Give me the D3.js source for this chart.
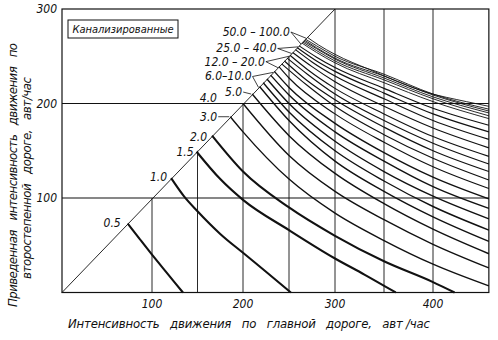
<!DOCTYPE html>
<html><head><meta charset="utf-8">
<script src="https://cdn.jsdelivr.net/npm/d3@7"></script>
<style>
html,body{margin:0;padding:0;background:#fff;}
svg{display:block;}
text{font-family:"Liberation Sans Narrow","DejaVu Sans Condensed","Liberation Sans",sans-serif;font-style:italic;fill:#111;}
</style></head>
<body>
<svg id="chart" width="498" height="340"></svg>
<script>
// ---- data ----
const xTicks = [100, 200, 300, 400];
const yTicks = [100, 200, 300];
const xGrid = [100, 150, 200, 250, 300, 350, 400];
const yGrid = [100, 200];
const xMax = 457, yMax = 300;
const curveValues = [0.5,1,1.5,2,3,4,5,6,7,8,9,10,12,14,16,18,20,25,30,35,40,50,60,70,80,90,100];
const curvePoints = [
  [[73,73],[86,57],[100,40],[117,20],[134,0]],
  [[121,121],[135,102],[150,86],[175,62],[200,42],[225,22],[252,0]],
  [[149,149],[175,120],[200,98],[250,66],[300,36],[330,19],[362,0]],
  [[166,166],[200,128],[250,90],[300,60],[350,33],[400,11],[422,0]],
  [[186,186],[200,170],[250,120],[300,84],[350,55],[400,30],[457,7]],
  [[200,200],[250,145],[300,107],[350,77],[400,51],[457,26]],
  [[210,210],[250,166],[300,126],[350,94],[400,67],[457,41]],
  [[218,218],[250,182],[300,139],[350,107],[400,80],[457,54]],
  [[222,222],[250,191],[300,150],[350,118],[400,91],[457,66]],
  [[226,226],[250,200],[300,160],[350,128],[400,102],[457,78]],
  [[230,230],[250,209],[300,170],[350,139],[400,112],[457,89]],
  [[234,234],[250,217],[300,179],[350,148],[400,122],[457,99]],
  [[239,239],[250,227],[300,189],[350,159],[400,133],[457,110]],
  [[242,242],[270,219],[300,197],[350,167],[400,142],[457,119]],
  [[245,245],[270,224],[300,204],[350,175],[400,150],[457,128]],
  [[248,248],[270,231],[300,210],[350,182],[400,158],[457,136]],
  [[251,251],[270,236],[300,216],[350,189],[400,165],[457,144]],
  [[254,254],[275,239],[300,223],[350,197],[400,174],[457,153]],
  [[257,257],[275,244],[300,229],[350,205],[400,182],[457,162]],
  [[259,259],[280,245],[300,234],[350,211],[400,189],[457,170]],
  [[261,261],[280,249],[300,238],[350,216],[400,195],[457,177]],
  [[264,264],[280,254],[300,243],[350,222],[400,202],[457,184]],
  [[265,265],[280,256],[300,245],[350,225],[400,205],[457,187]],
  [[266,266],[280,258],[300,247],[350,227],[400,207],[457,190]],
  [[267,267],[280,259],[300,248],[350,229],[400,209],[457,192]],
  [[268,268],[280,261],[300,250],[350,231],[400,210],[457,194]],
  [[270,270],[282,262],[300,252],[335,236],[393,212],[434,202],[457,197]]
];
const singleLabels = ["0.5","1.0","1.5","2.0","3.0","4.0","5.0"];
const groupLabels = ["6.0–10.0","12.0 – 20.0","25.0 – 40.0","50.0 – 100.0"];
const groupRanges = [[6,10],[12,20],[25,40],[50,100]];
const legendText = "Канализированные";
const xTitle = "Интенсивность   движения   по   главной   дорогe,   авт /час";
const yTitle1 = "Приведенная   интенсивность   движения   по";
const yTitle2 = "второстепенной   дороге,   авт/час";

// ---- layout ----
const svg = d3.select("#chart");
const x = d3.scaleLinear().domain([0,100,200,300,400]).range([62,152,243,335,433]);
const y = d3.scaleLinear().domain([0, yMax]).range([292.5, 9]);
const ink = "#111";

svg.append("g").selectAll("line").data(xGrid).join("line")
  .attr("x1", d => x(d)).attr("x2", d => x(d))
  .attr("y1", y(0)).attr("y2", d => y(Math.min(d, yMax)))
  .attr("stroke", ink).attr("stroke-width", 0.9);
svg.append("g").selectAll("line").data(yGrid).join("line")
  .attr("x1", x(0)).attr("x2", x(xMax))
  .attr("y1", d => y(d)).attr("y2", d => y(d))
  .attr("stroke", ink).attr("stroke-width", 1.1);
svg.append("line").attr("x1", x(0)).attr("y1", y(0)).attr("x2", x(yMax)).attr("y2", y(yMax))
  .attr("stroke", ink).attr("stroke-width", 0.9);
svg.append("rect").attr("x", x(0)).attr("y", y(yMax)).attr("width", x(xMax) - x(0)).attr("height", y(0) - y(yMax))
  .attr("fill", "none").attr("stroke", ink).attr("stroke-width", 1.2);

const line = d3.line().x(d => x(d[0])).y(d => y(d[1])).curve(d3.curveMonotoneX);
svg.append("g").selectAll("path").data(curvePoints).join("path")
  .attr("d", line).attr("fill", "none").attr("stroke", ink)
  .attr("stroke-width", (d, i) => curveValues[i] <= 2 ? 2.1 : (curveValues[i] <= 10 ? 1.4 : (curveValues[i] <= 40 ? 1.15 : 0.9)));

svg.append("g").selectAll("text").data(xTicks).join("text")
  .attr("x", d => x(d)).attr("y", 308).attr("text-anchor", "middle")
  .attr("font-size", 12).text(d => d);
svg.append("g").selectAll("text").data(yTicks).join("text")
  .attr("x", 57).attr("y", d => y(d) + 4).attr("text-anchor", "end")
  .attr("font-size", 12).text(d => d);

const singleOffsets = [[-7,3],[-4,3],[-3,4],[-5,5],[-13,4],[-26,-2],[-10,2]];
const startOf = v => curvePoints[curveValues.indexOf(v)][0];
singleLabels.forEach((t, i) => {
  const s = curvePoints[i][0];
  const px = x(s[0]) + singleOffsets[i][0], py = y(s[1]) + singleOffsets[i][1];
  svg.append("text").attr("x", px).attr("y", py).attr("text-anchor", "end")
    .attr("font-size", 12).text(t);
  if (i === 4 || i === 6) {
    svg.append("line").attr("x1", px + 1).attr("y1", py - 4).attr("x2", x(s[0]) - 1).attr("y2", y(s[1]))
      .attr("stroke", ink).attr("stroke-width", 0.8);
  }
});
const groupOffsets = [[-8,-6],[-14,-1],[-16,0],[-12,-7]];
groupLabels.forEach((t, i) => {
  const a = startOf(groupRanges[i][0]), b = startOf(groupRanges[i][1]);
  const px = x(a[0]) + groupOffsets[i][0], py = y(a[1]) + groupOffsets[i][1];
  svg.append("text").attr("x", px).attr("y", py).attr("text-anchor", "end")
    .attr("font-size", 12).style("white-space", "pre").text(t);
  [a, b].forEach(p => svg.append("line").attr("x1", px + 1).attr("y1", py - 4)
    .attr("x2", x(p[0]) - 1).attr("y2", y(p[1]) + 1).attr("stroke", ink).attr("stroke-width", 0.8));
});

svg.append("rect").attr("x", 68).attr("y", 20).attr("width", 110).attr("height", 18)
  .attr("fill", "#fff").attr("stroke", ink).attr("stroke-width", 1);
svg.append("text").attr("x", 123).attr("y", 33).attr("text-anchor", "middle")
  .attr("font-size", 11).text(legendText);

svg.append("text").attr("x", 68).attr("y", 328).attr("font-size", 13)
  .attr("textLength", 362).attr("lengthAdjust", "spacing").style("white-space", "pre").text(xTitle);
svg.append("text").attr("transform", "translate(17,307) rotate(-90)").attr("font-size", 13)
  .attr("textLength", 264).attr("lengthAdjust", "spacing").style("white-space", "pre").text(yTitle1);
svg.append("text").attr("transform", "translate(31,279) rotate(-90)").attr("font-size", 13)
  .attr("textLength", 202).attr("lengthAdjust", "spacing").style("white-space", "pre").text(yTitle2);
</script>
</body></html>
